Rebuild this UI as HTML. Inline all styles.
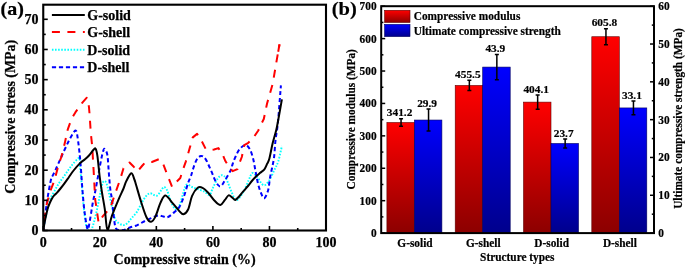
<!DOCTYPE html>
<html><head><meta charset="utf-8"><style>
html,body{margin:0;padding:0;background:#fff;width:685px;height:268px;overflow:hidden}
svg{display:block;will-change:transform}
</style></head><body>
<svg width="685" height="268" viewBox="0 0 685 268">
<defs><linearGradient id="gr" x1="0" y1="0" x2="0" y2="1"><stop offset="0" stop-color="#ff0000"/><stop offset="1" stop-color="#8c0000"/></linearGradient><linearGradient id="gb" x1="0" y1="0" x2="0" y2="1"><stop offset="0" stop-color="#0000ff"/><stop offset="1" stop-color="#00008c"/></linearGradient><clipPath id="ca"><rect x="43.25" y="4.70" width="282.75" height="225.80"/></clipPath></defs>
<g clip-path="url(#ca)" fill="none" stroke-linejoin="round">
<path d="M43.30,230.50 C43.58,228.68 44.07,224.05 45.00,219.60 C45.93,215.15 48.02,207.32 48.90,203.80 C49.78,200.28 49.37,200.63 50.30,198.50 C51.23,196.37 53.10,193.48 54.50,191.00 C55.90,188.52 57.20,185.93 58.70,183.60 C60.20,181.27 61.95,179.18 63.50,177.00 C65.05,174.82 66.50,172.58 68.00,170.50 C69.50,168.42 70.95,166.37 72.50,164.50 C74.05,162.63 76.13,160.33 77.30,159.30 C78.47,158.27 79.02,156.85 79.50,158.30 C79.98,159.75 79.82,163.55 80.20,168.00 C80.58,172.45 81.25,178.83 81.80,185.00 C82.35,191.17 82.88,198.83 83.50,205.00 C84.12,211.17 84.83,217.92 85.50,222.00 C86.17,226.08 86.75,228.17 87.50,229.50 C88.25,230.83 89.25,230.17 90.00,230.00 C90.75,229.83 91.00,231.17 92.00,228.50 C93.00,225.83 94.67,219.62 96.00,214.00 C97.33,208.38 99.08,199.30 100.00,194.80 C100.92,190.30 100.87,189.28 101.50,187.00 C102.13,184.72 102.93,181.60 103.80,181.10 C104.67,180.60 105.60,180.92 106.70,184.00 C107.80,187.08 109.37,195.13 110.40,199.60 C111.43,204.07 111.98,207.32 112.90,210.80 C113.82,214.28 114.30,218.13 115.90,220.50 C117.50,222.87 120.65,224.50 122.50,225.00 C124.35,225.50 125.50,224.63 127.00,223.50 C128.50,222.37 129.85,220.13 131.50,218.20 C133.15,216.27 135.25,214.35 136.90,211.90 C138.55,209.45 139.92,206.10 141.40,203.50 C142.88,200.90 144.32,198.00 145.80,196.30 C147.28,194.60 148.50,193.38 150.30,193.30 C152.10,193.22 154.80,196.28 156.60,195.80 C158.40,195.32 159.88,191.87 161.10,190.40 C162.32,188.93 162.93,187.08 163.90,187.00 C164.87,186.92 165.97,188.15 166.90,189.90 C167.83,191.65 168.65,195.15 169.50,197.50 C170.35,199.85 170.92,202.00 172.00,204.00 C173.08,206.00 174.65,209.52 176.00,209.50 C177.35,209.48 178.88,206.70 180.10,203.90 C181.32,201.10 182.23,195.92 183.30,192.70 C184.37,189.48 185.03,185.55 186.50,184.60 C187.97,183.65 190.10,186.20 192.10,187.00 C194.10,187.80 196.37,188.58 198.50,189.40 C200.63,190.22 203.05,190.95 204.90,191.90 C206.75,192.85 208.27,195.77 209.60,195.10 C210.93,194.43 211.60,190.58 212.90,187.90 C214.20,185.22 215.90,181.12 217.40,179.00 C218.90,176.88 220.42,175.20 221.90,175.20 C223.38,175.20 224.65,176.10 226.30,179.00 C227.95,181.90 230.10,189.08 231.80,192.60 C233.50,196.12 234.63,200.10 236.50,200.10 C238.37,200.10 240.98,195.87 243.00,192.60 C245.02,189.33 247.05,183.75 248.60,180.50 C250.15,177.25 250.90,173.72 252.30,173.10 C253.70,172.48 255.13,174.78 257.00,176.80 C258.87,178.82 261.48,184.58 263.50,185.20 C265.52,185.82 267.23,183.15 269.10,180.50 C270.97,177.85 273.15,172.57 274.70,169.30 C276.25,166.03 277.20,164.78 278.40,160.90 C279.60,157.02 281.32,148.48 281.90,146.00" stroke="#00ffff" stroke-width="1.9" stroke-dasharray="1.6 1.5" stroke-dashoffset="2.36"/>
<path d="M43.30,230.50 C43.73,227.03 45.13,215.48 45.90,209.70 C46.67,203.92 47.07,200.75 47.90,195.80 C48.73,190.85 50.08,183.40 50.90,180.00 C51.72,176.60 52.02,177.10 52.80,175.40 C53.58,173.70 54.18,172.87 55.60,169.80 C57.02,166.73 59.17,161.68 61.30,157.00 C63.43,152.32 66.28,145.90 68.40,141.70 C70.52,137.50 72.70,133.57 74.00,131.80 C75.30,130.03 75.60,130.17 76.20,131.10 C76.80,132.03 77.02,133.50 77.60,137.40 C78.18,141.30 79.12,148.87 79.70,154.50 C80.28,160.13 80.62,164.95 81.10,171.20 C81.58,177.45 81.98,184.87 82.60,192.00 C83.22,199.13 83.95,207.78 84.80,214.00 C85.65,220.22 86.90,227.97 87.70,229.30 C88.50,230.63 88.75,226.42 89.60,222.00 C90.45,217.58 91.85,207.97 92.80,202.80 C93.75,197.63 94.40,195.57 95.30,191.00 C96.20,186.43 97.13,181.07 98.20,175.40 C99.27,169.73 100.77,161.32 101.70,157.00 C102.63,152.68 103.25,150.75 103.80,149.50 C104.35,148.25 104.40,148.55 105.00,149.50 C105.60,150.45 106.73,150.95 107.40,155.20 C108.07,159.45 108.50,169.20 109.00,175.00 C109.50,180.80 109.90,185.90 110.40,190.00 C110.90,194.10 111.45,195.33 112.00,199.60 C112.55,203.87 113.03,210.78 113.70,215.60 C114.37,220.42 114.67,226.10 116.00,228.50 C117.33,230.90 120.37,229.75 121.70,230.00 C123.03,230.25 122.62,230.42 124.00,230.00 C125.38,229.58 127.85,228.28 130.00,227.50 C132.15,226.72 134.57,226.30 136.90,225.30 C139.23,224.30 141.62,222.68 144.00,221.50 C146.38,220.32 148.80,219.20 151.20,218.20 C153.60,217.20 156.35,215.77 158.40,215.50 C160.45,215.23 161.98,216.30 163.50,216.60 C165.02,216.90 165.95,217.82 167.50,217.30 C169.05,216.78 170.83,215.20 172.80,213.50 C174.77,211.80 177.42,210.03 179.30,207.10 C181.18,204.17 182.63,199.92 184.10,195.90 C185.57,191.88 186.90,186.48 188.10,183.00 C189.30,179.52 190.52,177.20 191.30,175.00 C192.08,172.80 191.93,172.30 192.80,169.80 C193.67,167.30 195.13,162.30 196.50,160.00 C197.87,157.70 199.48,156.15 201.00,156.00 C202.52,155.85 203.88,156.57 205.60,159.10 C207.32,161.63 209.58,167.40 211.30,171.20 C213.02,175.00 214.38,179.37 215.90,181.90 C217.42,184.43 218.90,186.65 220.40,186.40 C221.90,186.15 223.17,183.13 224.90,180.40 C226.63,177.67 229.52,172.72 230.80,170.00 C232.08,167.28 231.83,166.27 232.60,164.10 C233.37,161.93 234.25,159.47 235.40,157.00 C236.55,154.53 237.82,151.30 239.50,149.30 C241.18,147.30 243.77,145.00 245.50,145.00 C247.23,145.00 248.62,146.98 249.90,149.30 C251.18,151.62 252.25,155.17 253.20,158.90 C254.15,162.63 254.78,167.52 255.60,171.70 C256.42,175.88 257.20,180.45 258.10,184.00 C259.00,187.55 259.97,190.62 261.00,193.00 C262.03,195.38 263.10,198.82 264.30,198.30 C265.50,197.78 267.27,193.23 268.20,189.90 C269.13,186.57 269.27,181.90 269.90,178.30 C270.53,174.70 271.30,171.85 272.00,168.30 C272.70,164.75 273.52,161.67 274.10,157.00 C274.68,152.33 274.90,145.68 275.50,140.30 C276.10,134.92 276.98,131.52 277.70,124.70 C278.42,117.88 279.27,105.97 279.80,99.40 C280.33,92.83 280.72,87.65 280.90,85.30" stroke="#0000ff" stroke-width="2" stroke-dasharray="4.2 2.8" stroke-dashoffset="0.97"/>
<path d="M43.30,230.50 L45.90,207.70 L49.90,191.90 L54.20,181.10 L58.40,165.50 L61.30,157.00 L64.80,143.10 L67.70,129.60 L71.50,119.00 L75.50,112.20 L82.60,102.30 L86.80,97.70 L88.90,106.50 L89.60,114.30 L90.80,133.20 L92.20,146.00 L93.90,175.40 L95.20,199.60 L96.40,207.50 L98.60,222.60 L102.90,216.10 L110.50,207.50 L114.80,194.50 L120.20,179.30 L123.50,168.30 L129.50,162.50 L133.50,166.50 L137.50,171.50 L142.00,166.00 L145.50,162.00 L151.90,162.00 L159.00,159.10 L163.20,164.10 L167.50,175.40 L172.10,186.90 L175.80,182.50 L180.30,178.00 L182.50,171.00 L185.90,161.30 L189.50,148.80 L192.80,137.40 L197.10,133.90 L201.30,140.30 L205.60,148.80 L208.40,150.20 L214.10,149.50 L218.40,148.10 L222.60,154.50 L225.50,161.30 L229.00,166.90 L232.60,171.20 L237.50,169.10 L239.60,162.70 L241.80,157.00 L244.30,145.20 L248.30,142.80 L253.20,138.00 L258.30,130.50 L260.90,124.70 L263.80,119.00 L267.00,103.70 L272.70,83.80 L276.60,60.80 L279.50,44.40" stroke="#ff0000" stroke-width="2" stroke-dasharray="8 7.5" stroke-dashoffset="5.50"/>
<path d="M278.2,51.7 L279.5,44.4" stroke="#ff0000" stroke-width="2"/>
<path d="M43.30,230.50 C43.52,229.17 44.08,225.25 44.60,222.50 C45.12,219.75 45.83,216.50 46.40,214.00 C46.97,211.50 47.47,209.25 48.00,207.50 C48.53,205.75 48.93,205.00 49.60,203.50 C50.27,202.00 51.20,199.88 52.00,198.50 C52.80,197.12 53.60,196.13 54.40,195.20 C55.20,194.27 55.78,194.02 56.80,192.90 C57.82,191.78 59.25,190.05 60.50,188.50 C61.75,186.95 62.88,185.52 64.30,183.60 C65.72,181.68 67.45,179.18 69.00,177.00 C70.55,174.82 71.75,172.82 73.60,170.50 C75.45,168.18 78.20,164.97 80.10,163.10 C82.00,161.23 83.52,160.57 85.00,159.30 C86.48,158.03 87.58,157.08 89.00,155.50 C90.42,153.92 92.40,150.92 93.50,149.80 C94.60,148.68 94.95,147.78 95.60,148.80 C96.25,149.82 96.73,151.37 97.40,155.90 C98.07,160.43 98.85,169.98 99.60,176.00 C100.35,182.02 101.03,186.47 101.90,192.00 C102.77,197.53 103.88,202.93 104.80,209.20 C105.72,215.47 106.20,228.53 107.40,229.60 C108.60,230.67 110.15,220.60 112.00,215.60 C113.85,210.60 116.62,204.03 118.50,199.60 C120.38,195.17 122.00,192.08 123.30,189.00 C124.60,185.92 124.97,183.72 126.30,181.10 C127.63,178.48 129.95,173.57 131.30,173.30 C132.65,173.03 133.60,177.55 134.40,179.50 C135.20,181.45 134.95,181.17 136.10,185.00 C137.25,188.83 139.55,197.08 141.30,202.50 C143.05,207.92 144.98,214.28 146.60,217.50 C148.22,220.72 149.53,221.95 151.00,221.80 C152.47,221.65 153.80,219.82 155.40,216.60 C157.00,213.38 158.92,206.00 160.60,202.50 C162.28,199.00 163.47,195.45 165.50,195.60 C167.53,195.75 170.50,200.82 172.80,203.40 C175.10,205.98 177.55,209.28 179.30,211.10 C181.05,212.92 181.83,214.57 183.30,214.30 C184.77,214.03 186.63,212.57 188.10,209.50 C189.57,206.43 190.50,199.52 192.10,195.90 C193.70,192.28 195.97,189.15 197.70,187.80 C199.43,186.45 200.75,186.98 202.50,187.80 C204.25,188.62 206.18,190.55 208.20,192.70 C210.22,194.85 212.57,198.65 214.60,200.70 C216.63,202.75 218.68,205.13 220.40,205.00 C222.12,204.87 223.53,201.50 224.90,199.90 C226.27,198.30 227.37,195.78 228.60,195.40 C229.83,195.02 231.18,196.85 232.30,197.60 C233.42,198.35 234.10,200.17 235.30,199.90 C236.50,199.63 238.22,197.37 239.50,196.00 C240.78,194.63 241.58,193.37 243.00,191.70 C244.42,190.03 246.45,187.87 248.00,186.00 C249.55,184.13 250.97,182.08 252.30,180.50 C253.63,178.92 254.75,177.73 256.00,176.50 C257.25,175.27 258.40,174.30 259.80,173.10 C261.20,171.90 263.17,170.87 264.40,169.30 C265.63,167.73 266.37,165.50 267.20,163.70 C268.03,161.90 268.48,161.93 269.40,158.50 C270.32,155.07 271.57,147.80 272.70,143.10 C273.83,138.40 275.25,134.32 276.20,130.30 C277.15,126.28 277.45,124.15 278.40,119.00 C279.35,113.85 281.32,102.67 281.90,99.40" stroke="#000" stroke-width="2"/>
</g>
<rect x="43.25" y="4.70" width="282.75" height="225.80" fill="none" stroke="#000" stroke-width="2.1"/>
<line x1="43.25" y1="230.50" x2="47.75" y2="230.50" stroke="#000" stroke-width="1.6"/>
<line x1="43.25" y1="215.41" x2="45.75" y2="215.41" stroke="#000" stroke-width="1.6"/>
<line x1="43.25" y1="200.33" x2="47.75" y2="200.33" stroke="#000" stroke-width="1.6"/>
<line x1="43.25" y1="185.24" x2="45.75" y2="185.24" stroke="#000" stroke-width="1.6"/>
<line x1="43.25" y1="170.16" x2="47.75" y2="170.16" stroke="#000" stroke-width="1.6"/>
<line x1="43.25" y1="155.07" x2="45.75" y2="155.07" stroke="#000" stroke-width="1.6"/>
<line x1="43.25" y1="139.99" x2="47.75" y2="139.99" stroke="#000" stroke-width="1.6"/>
<line x1="43.25" y1="124.90" x2="45.75" y2="124.90" stroke="#000" stroke-width="1.6"/>
<line x1="43.25" y1="109.82" x2="47.75" y2="109.82" stroke="#000" stroke-width="1.6"/>
<line x1="43.25" y1="94.73" x2="45.75" y2="94.73" stroke="#000" stroke-width="1.6"/>
<line x1="43.25" y1="79.64" x2="47.75" y2="79.64" stroke="#000" stroke-width="1.6"/>
<line x1="43.25" y1="64.56" x2="45.75" y2="64.56" stroke="#000" stroke-width="1.6"/>
<line x1="43.25" y1="49.47" x2="47.75" y2="49.47" stroke="#000" stroke-width="1.6"/>
<line x1="43.25" y1="34.39" x2="45.75" y2="34.39" stroke="#000" stroke-width="1.6"/>
<line x1="43.25" y1="19.30" x2="47.75" y2="19.30" stroke="#000" stroke-width="1.6"/>
<line x1="43.25" y1="230.50" x2="43.25" y2="226.00" stroke="#000" stroke-width="1.6"/>
<line x1="71.53" y1="230.50" x2="71.53" y2="228.00" stroke="#000" stroke-width="1.6"/>
<line x1="99.80" y1="230.50" x2="99.80" y2="226.00" stroke="#000" stroke-width="1.6"/>
<line x1="128.07" y1="230.50" x2="128.07" y2="228.00" stroke="#000" stroke-width="1.6"/>
<line x1="156.35" y1="230.50" x2="156.35" y2="226.00" stroke="#000" stroke-width="1.6"/>
<line x1="184.62" y1="230.50" x2="184.62" y2="228.00" stroke="#000" stroke-width="1.6"/>
<line x1="212.90" y1="230.50" x2="212.90" y2="226.00" stroke="#000" stroke-width="1.6"/>
<line x1="241.18" y1="230.50" x2="241.18" y2="228.00" stroke="#000" stroke-width="1.6"/>
<line x1="269.45" y1="230.50" x2="269.45" y2="226.00" stroke="#000" stroke-width="1.6"/>
<line x1="297.73" y1="230.50" x2="297.73" y2="228.00" stroke="#000" stroke-width="1.6"/>
<line x1="326.00" y1="230.50" x2="326.00" y2="226.00" stroke="#000" stroke-width="1.6"/>
<line x1="51.9" y1="15.00" x2="84.8" y2="15.00" stroke="#000" stroke-width="2"/>
<line x1="51.9" y1="32.10" x2="84.8" y2="32.10" stroke="#ff0000" stroke-width="2" stroke-dasharray="8 7.5"/>
<line x1="51.9" y1="49.80" x2="84.8" y2="49.80" stroke="#00ffff" stroke-width="2" stroke-dasharray="1.6 1.5"/>
<line x1="51.9" y1="67.20" x2="84.8" y2="67.20" stroke="#0000ff" stroke-width="2" stroke-dasharray="4.2 2.8"/>
<g font-family='"Liberation Serif", serif' font-weight="bold" fill="#000" stroke="#000" stroke-width="0.25">
<text transform="translate(0.50,15.30) scale(1,0.930)" font-size="20.00">(a)</text>
<text transform="translate(38.60,235.10)" font-size="14.00" text-anchor="end">0</text>
<text transform="translate(38.60,204.93)" font-size="14.00" text-anchor="end">10</text>
<text transform="translate(38.60,174.76)" font-size="14.00" text-anchor="end">20</text>
<text transform="translate(38.60,144.59)" font-size="14.00" text-anchor="end">30</text>
<text transform="translate(38.60,114.42)" font-size="14.00" text-anchor="end">40</text>
<text transform="translate(38.60,84.24)" font-size="14.00" text-anchor="end">50</text>
<text transform="translate(38.60,54.07)" font-size="14.00" text-anchor="end">60</text>
<text transform="translate(38.60,23.90)" font-size="14.00" text-anchor="end">70</text>
<text transform="translate(43.25,246.80)" font-size="14.00" text-anchor="middle">0</text>
<text transform="translate(99.80,246.80)" font-size="14.00" text-anchor="middle">20</text>
<text transform="translate(156.35,246.80)" font-size="14.00" text-anchor="middle">40</text>
<text transform="translate(212.90,246.80)" font-size="14.00" text-anchor="middle">60</text>
<text transform="translate(269.45,246.80)" font-size="14.00" text-anchor="middle">80</text>
<text transform="translate(326.00,246.80)" font-size="14.00" text-anchor="middle">100</text>
<text transform="translate(184.60,264.00) scale(1,1.080)" font-size="14.00" text-anchor="middle">Compressive strain (%)</text>
<text transform="translate(14.60,116.80) rotate(-90) scale(1,1.080)" font-size="13.90" text-anchor="middle">Compressive stress (MPa)</text>
<text transform="translate(87.30,20.00)" font-size="14.00">G-solid</text>
<text transform="translate(87.30,37.10)" font-size="14.00">G-shell</text>
<text transform="translate(87.30,54.80)" font-size="14.00">D-solid</text>
<text transform="translate(87.30,72.20)" font-size="14.00">D-shell</text>
</g>
<g font-family='"Liberation Serif", serif' font-weight="bold" fill="#000" stroke="#000" stroke-width="0.2">
<text transform="translate(331.70,14.90) scale(1,0.930)" font-size="20.50">(b)</text>
<rect x="386.90" y="122.50" width="27.50" height="110.60" fill="url(#gr)" stroke="#600000" stroke-width="0.6"/>
<rect x="414.40" y="120.03" width="27.50" height="113.07" fill="url(#gb)" stroke="#000060" stroke-width="0.6"/>
<rect x="455.20" y="85.45" width="27.50" height="147.65" fill="url(#gr)" stroke="#600000" stroke-width="0.6"/>
<rect x="482.70" y="67.08" width="27.50" height="166.02" fill="url(#gb)" stroke="#000060" stroke-width="0.6"/>
<rect x="523.50" y="102.11" width="27.50" height="130.99" fill="url(#gr)" stroke="#600000" stroke-width="0.6"/>
<rect x="551.00" y="143.47" width="27.50" height="89.63" fill="url(#gb)" stroke="#000060" stroke-width="0.6"/>
<rect x="591.80" y="36.73" width="27.50" height="196.37" fill="url(#gr)" stroke="#600000" stroke-width="0.6"/>
<rect x="619.30" y="107.93" width="27.50" height="125.17" fill="url(#gb)" stroke="#000060" stroke-width="0.6"/>
<path d="M401.05,118.81 V126.20 M399.05,118.81 h4.0 M399.05,126.20 h4.0" stroke="#000" stroke-width="1.5" fill="none"/>
<path d="M428.55,109.06 V131.00 M426.55,109.06 h4.0 M426.55,131.00 h4.0" stroke="#000" stroke-width="1.5" fill="none"/>
<text transform="translate(399.55,116.41)" font-size="11.35" text-anchor="middle">341.2</text>
<text transform="translate(427.05,106.66)" font-size="11.35" text-anchor="middle">29.9</text>
<text transform="translate(415.00,246.60) scale(1,1.110)" font-size="11.35" text-anchor="middle">G-solid</text>
<path d="M469.35,80.36 V90.54 M467.35,80.36 h4.0 M467.35,90.54 h4.0" stroke="#000" stroke-width="1.5" fill="none"/>
<path d="M496.85,54.42 V79.75 M494.85,54.42 h4.0 M494.85,79.75 h4.0" stroke="#000" stroke-width="1.5" fill="none"/>
<text transform="translate(467.85,77.96)" font-size="11.35" text-anchor="middle">455.5</text>
<text transform="translate(495.35,52.02)" font-size="11.35" text-anchor="middle">43.9</text>
<text transform="translate(483.30,246.60) scale(1,1.110)" font-size="11.35" text-anchor="middle">G-shell</text>
<path d="M537.65,95.02 V109.21 M535.65,95.02 h4.0 M535.65,109.21 h4.0" stroke="#000" stroke-width="1.5" fill="none"/>
<path d="M565.15,138.94 V148.01 M563.15,138.94 h4.0 M563.15,148.01 h4.0" stroke="#000" stroke-width="1.5" fill="none"/>
<text transform="translate(536.15,92.62)" font-size="11.35" text-anchor="middle">404.1</text>
<text transform="translate(563.65,136.54)" font-size="11.35" text-anchor="middle">23.7</text>
<text transform="translate(551.60,246.60) scale(1,1.110)" font-size="11.35" text-anchor="middle">D-solid</text>
<path d="M605.95,28.63 V44.84 M603.95,28.63 h4.0 M603.95,44.84 h4.0" stroke="#000" stroke-width="1.5" fill="none"/>
<path d="M633.45,101.12 V114.73 M631.45,101.12 h4.0 M631.45,114.73 h4.0" stroke="#000" stroke-width="1.5" fill="none"/>
<text transform="translate(604.45,26.23)" font-size="11.35" text-anchor="middle">605.8</text>
<text transform="translate(631.95,98.72)" font-size="11.35" text-anchor="middle">33.1</text>
<text transform="translate(619.90,246.60) scale(1,1.110)" font-size="11.35" text-anchor="middle">D-shell</text>
<rect x="381.20" y="6.20" width="272.80" height="226.90" fill="none" stroke="#000" stroke-width="2"/>
<line x1="381.20" y1="233.10" x2="385.20" y2="233.10" stroke="#000" stroke-width="1.5"/>
<text transform="translate(376.60,237.00) scale(1,1.110)" font-size="11.35" text-anchor="end">0</text>
<line x1="381.20" y1="216.89" x2="383.40" y2="216.89" stroke="#000" stroke-width="1.5"/>
<line x1="381.20" y1="200.69" x2="385.20" y2="200.69" stroke="#000" stroke-width="1.5"/>
<text transform="translate(376.60,204.59) scale(1,1.110)" font-size="11.35" text-anchor="end">100</text>
<line x1="381.20" y1="184.48" x2="383.40" y2="184.48" stroke="#000" stroke-width="1.5"/>
<line x1="381.20" y1="168.27" x2="385.20" y2="168.27" stroke="#000" stroke-width="1.5"/>
<text transform="translate(376.60,172.17) scale(1,1.110)" font-size="11.35" text-anchor="end">200</text>
<line x1="381.20" y1="152.06" x2="383.40" y2="152.06" stroke="#000" stroke-width="1.5"/>
<line x1="381.20" y1="135.86" x2="385.20" y2="135.86" stroke="#000" stroke-width="1.5"/>
<text transform="translate(376.60,139.76) scale(1,1.110)" font-size="11.35" text-anchor="end">300</text>
<line x1="381.20" y1="119.65" x2="383.40" y2="119.65" stroke="#000" stroke-width="1.5"/>
<line x1="381.20" y1="103.44" x2="385.20" y2="103.44" stroke="#000" stroke-width="1.5"/>
<text transform="translate(376.60,107.34) scale(1,1.110)" font-size="11.35" text-anchor="end">400</text>
<line x1="381.20" y1="87.24" x2="383.40" y2="87.24" stroke="#000" stroke-width="1.5"/>
<line x1="381.20" y1="71.03" x2="385.20" y2="71.03" stroke="#000" stroke-width="1.5"/>
<text transform="translate(376.60,74.93) scale(1,1.110)" font-size="11.35" text-anchor="end">500</text>
<line x1="381.20" y1="54.82" x2="383.40" y2="54.82" stroke="#000" stroke-width="1.5"/>
<line x1="381.20" y1="38.61" x2="385.20" y2="38.61" stroke="#000" stroke-width="1.5"/>
<text transform="translate(376.60,42.51) scale(1,1.110)" font-size="11.35" text-anchor="end">600</text>
<line x1="381.20" y1="22.41" x2="383.40" y2="22.41" stroke="#000" stroke-width="1.5"/>
<line x1="381.20" y1="6.20" x2="385.20" y2="6.20" stroke="#000" stroke-width="1.5"/>
<text transform="translate(376.60,10.10) scale(1,1.110)" font-size="11.35" text-anchor="end">700</text>
<line x1="654.00" y1="233.10" x2="650.00" y2="233.10" stroke="#000" stroke-width="1.5"/>
<text transform="translate(658.30,237.00) scale(1,1.110)" font-size="11.35">0</text>
<line x1="654.00" y1="214.19" x2="651.80" y2="214.19" stroke="#000" stroke-width="1.5"/>
<line x1="654.00" y1="195.28" x2="650.00" y2="195.28" stroke="#000" stroke-width="1.5"/>
<text transform="translate(658.30,199.18) scale(1,1.110)" font-size="11.35">10</text>
<line x1="654.00" y1="176.38" x2="651.80" y2="176.38" stroke="#000" stroke-width="1.5"/>
<line x1="654.00" y1="157.47" x2="650.00" y2="157.47" stroke="#000" stroke-width="1.5"/>
<text transform="translate(658.30,161.37) scale(1,1.110)" font-size="11.35">20</text>
<line x1="654.00" y1="138.56" x2="651.80" y2="138.56" stroke="#000" stroke-width="1.5"/>
<line x1="654.00" y1="119.65" x2="650.00" y2="119.65" stroke="#000" stroke-width="1.5"/>
<text transform="translate(658.30,123.55) scale(1,1.110)" font-size="11.35">30</text>
<line x1="654.00" y1="100.74" x2="651.80" y2="100.74" stroke="#000" stroke-width="1.5"/>
<line x1="654.00" y1="81.83" x2="650.00" y2="81.83" stroke="#000" stroke-width="1.5"/>
<text transform="translate(658.30,85.73) scale(1,1.110)" font-size="11.35">40</text>
<line x1="654.00" y1="62.92" x2="651.80" y2="62.92" stroke="#000" stroke-width="1.5"/>
<line x1="654.00" y1="44.02" x2="650.00" y2="44.02" stroke="#000" stroke-width="1.5"/>
<text transform="translate(658.30,47.92) scale(1,1.110)" font-size="11.35">50</text>
<line x1="654.00" y1="25.11" x2="651.80" y2="25.11" stroke="#000" stroke-width="1.5"/>
<line x1="654.00" y1="6.20" x2="650.00" y2="6.20" stroke="#000" stroke-width="1.5"/>
<text transform="translate(658.30,10.10) scale(1,1.110)" font-size="11.35">60</text>
<text transform="translate(517.30,261.10) scale(1,1.110)" font-size="11.35" text-anchor="middle">Structure types</text>
<text transform="translate(354.90,119.30) rotate(-90) scale(1,1.110)" font-size="11.35" text-anchor="middle">Compressive modulus (MPa)</text>
<text transform="translate(682.00,118.50) rotate(-90) scale(1,1.110)" font-size="11.35" text-anchor="middle">Ultimate compressive strength (MPa)</text>
<rect x="384.6" y="10.3" width="25.4" height="12.2" fill="url(#gr)" stroke="#600000" stroke-width="0.6"/>
<rect x="384.6" y="24.4" width="25.4" height="12.2" fill="url(#gb)" stroke="#000060" stroke-width="0.6"/>
<text transform="translate(413.70,20.40) scale(1,1.110)" font-size="11.35">Compressive modulus</text>
<text transform="translate(413.70,34.80) scale(1,1.110)" font-size="11.35">Ultimate compressive strength</text>
</g>
</svg>
</body></html>
